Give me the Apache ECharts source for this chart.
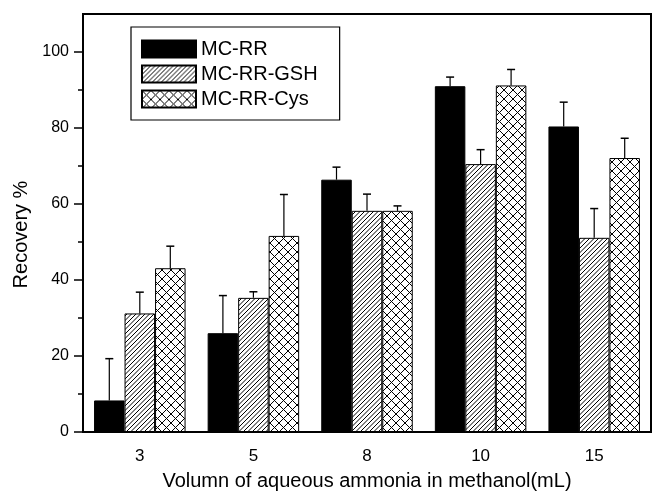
<!DOCTYPE html>
<html>
<head>
<meta charset="utf-8">
<script src="https://cdn.jsdelivr.net/npm/echarts@6/dist/echarts.min.js"></script>
<style>html,body{margin:0;padding:0;background:#fff;}#c{width:652px;height:496px;}</style>
</head>
<body>
<div id="c"></div>
<script>
// ---- data ----
const categories = ['3', '5', '8', '10', '15'];
const seriesNames = ['MC-RR', 'MC-RR-GSH', 'MC-RR-Cys'];
const mcrr      = [8.3, 26.0, 66.4, 91.0, 80.4];
const mcrrErr   = [11.0, 9.9, 3.3, 2.4, 6.4];
const mcrrGsh   = [31.2, 35.3, 58.2, 70.5, 51.1];
const mcrrGshErr= [5.6, 1.6, 4.4, 3.8, 7.7];
const mcrrCys   = [43.1, 51.6, 58.2, 91.2, 72.1];
const mcrrCysErr= [5.8, 10.9, 1.3, 4.2, 5.2];
const yTicks = [0, 20, 40, 60, 80, 100];
const yMinorTicks = [10, 30, 50, 70, 90];
const xTitle = 'Volumn of aqueous ammonia in methanol(mL)';
const yTitle = 'Recovery %';

// ---- patterns ----
function hatchPattern() {
  const s = 9, c = document.createElement('canvas');
  c.width = s; c.height = s;
  const g = c.getContext('2d');
  g.fillStyle = '#fff'; g.fillRect(0, 0, s, s);
  g.strokeStyle = '#000'; g.lineWidth = 1;
  g.beginPath();
  for (let o = -2 * s; o <= 2 * s; o += s / 2) {
    g.moveTo(o - 1, s + 1); g.lineTo(o + s + 1, -1);
  }
  g.stroke();
  return c;
}
function crossPattern() {
  const s = 9, c = document.createElement('canvas');
  c.width = s; c.height = s;
  const g = c.getContext('2d');
  g.fillStyle = '#fff'; g.fillRect(0, 0, s, s);
  g.strokeStyle = '#000'; g.lineWidth = 1;
  g.beginPath();
  g.moveTo(-1, -1); g.lineTo(s + 1, s + 1);
  g.moveTo(-1, s + 1); g.lineTo(s + 1, -1);
  g.stroke();
  return c;
}
const fills = ['#000', {image: hatchPattern(), repeat: 'repeat'}, {image: crossPattern(), repeat: 'repeat'}];
const values = [mcrr, mcrrGsh, mcrrCys];
const errs = [mcrrErr, mcrrGshErr, mcrrCysErr];

const BAR_W = 30.5;
const font = 'Liberation Sans, Arial, sans-serif';

const series = [];
seriesNames.forEach((name, k) => {
  series.push({
    name: name, type: 'bar', barWidth: BAR_W, barGap: '0%',
    data: values[k],
    itemStyle: {color: fills[k], borderColor: '#000', borderWidth: 1},
    emphasis: {disabled: true}, z: 2
  });
});
seriesNames.forEach((name, k) => {
  series.push({
    type: 'custom', name: name + ' err', z: 3, silent: true,
    data: values[k].map((v, i) => [i, v, errs[k][i]]),
    encode: {x: 0, y: 1},
    renderItem: function (params, api) {
      const i = api.value(0), v = api.value(1), e = api.value(2);
      const p0 = api.coord([i, v]);
      const p1 = api.coord([i, v + e]);
      const x = p0[0] + (k - 1) * BAR_W;
      return {type: 'group', children: [
        {type: 'line', shape: {x1: x, y1: p0[1], x2: x, y2: p1[1]}, style: {stroke: '#000', lineWidth: 1.2}},
        {type: 'line', shape: {x1: x - 4, y1: p1[1], x2: x + 4, y2: p1[1]}, style: {stroke: '#000', lineWidth: 1.5}}
      ]};
    }
  });
});

const chart = echarts.init(document.getElementById('c'), null, {renderer: 'canvas'});
chart.setOption({
  animation: false,
  backgroundColor: '#fff',
  grid: {left: 83, right: 1, top: 14, bottom: 59, show: true, borderColor: '#000', borderWidth: 2, containLabel: false},
  legend: {
    orient: 'vertical', left: 131, top: 27,
    data: seriesNames,
    itemWidth: 54, itemHeight: 17, itemGap: 5,
    padding: [12, 22, 11, 10],
    borderColor: '#000', borderWidth: 1.2,
    textStyle: {fontFamily: font, fontSize: 20, color: '#000'},
    icon: 'rect', selectedMode: false
  },
  xAxis: [{
    type: 'category', data: categories,
    axisLine: {lineStyle: {color: '#000', width: 2}},
    axisTick: {alignWithLabel: true, length: 8, lineStyle: {color: '#000', width: 1.5}},
    axisLabel: {color: '#000', fontFamily: font, fontSize: 17, margin: 16},
    name: xTitle, nameLocation: 'middle', nameGap: 39,
    nameTextStyle: {color: '#000', fontFamily: font, fontSize: 20}
  }, {
    type: 'category', data: categories, position: 'bottom',
    axisLine: {show: false},
    axisTick: {length: 5, lineStyle: {color: '#000', width: 1.5}},
    axisLabel: {show: false}
  }],
  yAxis: [{
    type: 'value', min: 0, max: 110, interval: 10,
    splitLine: {show: false},
    axisLine: {show: true, lineStyle: {color: '#000', width: 2}},
    axisTick: {show: true, length: 9, customValues: yTicks, lineStyle: {color: '#000', width: 1.5}},
    axisLabel: {color: '#000', fontFamily: font, fontSize: 16, margin: 14, customValues: yTicks},
    name: yTitle, nameLocation: 'middle', nameGap: 52,
    nameTextStyle: {color: '#000', fontFamily: font, fontSize: 20, padding: [0, 23, 0, 0]}
  }, {
    type: 'value', min: 0, max: 110, interval: 10, position: 'left',
    splitLine: {show: false},
    axisLine: {show: false},
    axisTick: {show: true, length: 5, customValues: yMinorTicks, lineStyle: {color: '#000', width: 1.5}},
    axisLabel: {show: false}
  }],
  series: series
});
</script>
</body>
</html>
